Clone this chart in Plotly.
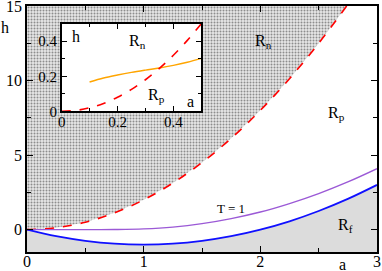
import plotly.graph_objects as go

# ---- data ----
red_a = [0, 0.25, 0.5, 0.75, 1.0, 1.25, 1.5, 1.75, 2.0, 2.25, 2.5, 2.74]
red_h = [0, 0.125, 0.5, 1.125, 2.0, 3.125, 4.5, 6.125, 8.0, 10.125, 12.5, 15.0]

blue_a = [0, 0.25, 0.5, 0.75, 1.0, 1.25, 1.5, 1.75, 2.0, 2.25, 2.5, 2.75, 3.0]
blue_h = [0, -0.44, -0.75, -0.94, -1.0, -0.94, -0.75, -0.44, 0, 0.56, 1.25, 2.06, 3.0]

purple_a = [0, 0.25, 0.5, 0.75, 1.0, 1.25, 1.5, 1.75, 2.0, 2.25, 2.5, 2.75, 3.0]
purple_h = [0, 0.0, 0.0, 0.01, 0.05, 0.17, 0.40, 0.74, 1.18, 1.75, 2.42, 3.2, 4.09]

inset_red_a = [0, 0.05, 0.1, 0.15, 0.2, 0.25, 0.3, 0.35, 0.4, 0.45, 0.5]
inset_red_h = [0, 0.005, 0.02, 0.045, 0.08, 0.125, 0.18, 0.245, 0.32, 0.405, 0.5]

orange_a = [0.1, 0.15, 0.2, 0.25, 0.3, 0.35, 0.4, 0.45, 0.5]
orange_h = [0.167, 0.19, 0.207, 0.222, 0.235, 0.247, 0.262, 0.28, 0.302]

x_range = [0, 3]
y_range = [-1.5, 15]
x_ticks = [0, 1, 2, 3]
y_ticks = [0, 5, 10, 15]
inset_ticks = [0, 0.2, 0.4]
inset_tick_text = ["0", "0.2", "0.4"]
inset_range = [0, 0.5]

FONT = "Liberation Serif, Times New Roman, Times, serif"

fig = go.Figure()

# R_n region (patterned) above the red curve
fig.add_trace(go.Scatter(
    x=red_a + [red_a[-1], x_range[0]],
    y=red_h + [y_range[1], y_range[1]],
    fill="toself", mode="none",
    fillcolor="#e0e0e0",
    fillpattern=dict(shape=".", size=3, solidity=0.35, fgcolor="#333333", bgcolor="#e6e6e6"),
    hoverinfo="skip", showlegend=False, xaxis="x", yaxis="y"))

# R_f region below the blue curve
fig.add_trace(go.Scatter(
    x=blue_a + [blue_a[-1], blue_a[0]],
    y=blue_h + [y_range[0], y_range[0]],
    fill="toself", mode="none", fillcolor="#dcdcdc",
    hoverinfo="skip", showlegend=False, xaxis="x", yaxis="y"))

fig.add_trace(go.Scatter(x=red_a, y=red_h, mode="lines", line_shape="spline",
                         line=dict(color="#ff0000", width=1.6, dash="dash"),
                         showlegend=False, xaxis="x", yaxis="y"))
fig.add_trace(go.Scatter(x=purple_a, y=purple_h, mode="lines", line_shape="spline",
                         line=dict(color="#9b59d6", width=1.4),
                         showlegend=False, xaxis="x", yaxis="y"))
fig.add_trace(go.Scatter(x=blue_a, y=blue_h, mode="lines", line_shape="spline",
                         line=dict(color="#1010ff", width=1.8),
                         showlegend=False, xaxis="x", yaxis="y"))

# inset
fig.add_trace(go.Scatter(x=orange_a, y=orange_h, mode="lines", line_shape="spline",
                         line=dict(color="#ffa500", width=1.4),
                         showlegend=False, xaxis="x2", yaxis="y2"))
fig.add_trace(go.Scatter(x=inset_red_a, y=inset_red_h, mode="lines", line_shape="spline",
                         line=dict(color="#ff0000", width=1.6, dash="dash"),
                         showlegend=False, xaxis="x2", yaxis="y2"))

def axis_common(size):
    return dict(showgrid=False, zeroline=False, showline=True, linecolor="black",
                linewidth=1.5, mirror="ticks", ticks="inside", tickcolor="black",
                tickwidth=1.2, ticklen=6, automargin=False, ticklabeloverflow="allow",
                tickfont=dict(family=FONT, size=size, color="black"))

fig.update_layout(
    width=382, height=271,
    margin=dict(l=27, r=5, t=6, b=19, autoexpand=False),
    paper_bgcolor="white", plot_bgcolor="white",
    font=dict(family=FONT, size=16, color="black"),
    xaxis=dict(range=x_range, tickvals=x_ticks, domain=[0, 1], ticklabelstandoff=-6,
               minor=dict(ticks="inside", ticklen=4, tickwidth=1.2, tickcolor="black",
                          tickvals=[0.5, 1.5, 2.5]),
               **axis_common(16)),
    yaxis=dict(range=y_range, tickvals=y_ticks, domain=[0, 1],
               minor=dict(ticks="inside", ticklen=4, tickwidth=1.2, tickcolor="black",
                          tickvals=[2.5, 7.5, 12.5]),
               **axis_common(16)),
    xaxis2=dict(range=inset_range, tickvals=inset_ticks, ticktext=inset_tick_text,
                domain=[0.099, 0.498], anchor="y2", ticklabelstandoff=-4,
                minor=dict(ticks="inside", ticklen=4, tickwidth=1.2, tickcolor="black",
                           tickvals=[0.1, 0.3]),
                **axis_common(15)),
    yaxis2=dict(range=inset_range, tickvals=inset_ticks, ticktext=inset_tick_text,
                domain=[0.572, 0.928], anchor="x2",
                minor=dict(ticks="inside", ticklen=4, tickwidth=1.2, tickcolor="black",
                           tickvals=[0.1, 0.3]),
                **axis_common(15)),
)

def ann(text, x, y, xref="x", yref="y", size=16):
    fig.add_annotation(text=text, x=x, y=y, xref=xref, yref=yref, showarrow=False,
                       xanchor="center", yanchor="middle",
                       font=dict(family=FONT, size=size, color="black"))

ann("h", -0.062, 0.913, "paper", "paper")
ann("a", 0.90, -0.05, "paper", "paper")
ann("R<sub>n</sub>", 2.03, 12.65)
ann("R<sub>p</sub>", 2.65, 7.8)
ann("R<sub>f</sub>", 2.73, 0.3)
ann("T = 1", 1.75, 1.45, size=13)
ann("h", 0.05, 0.425, "x2", "y2")
ann("a", 0.46, 0.058, "x2", "y2")
ann("R<sub>n</sub>", 0.27, 0.40, "x2", "y2")
ann("R<sub>p</sub>", 0.34, 0.09, "x2", "y2")

fig.write_html("out.html", config={"displayModeBar": False},
               post_script="document.body.style.margin='0';")
